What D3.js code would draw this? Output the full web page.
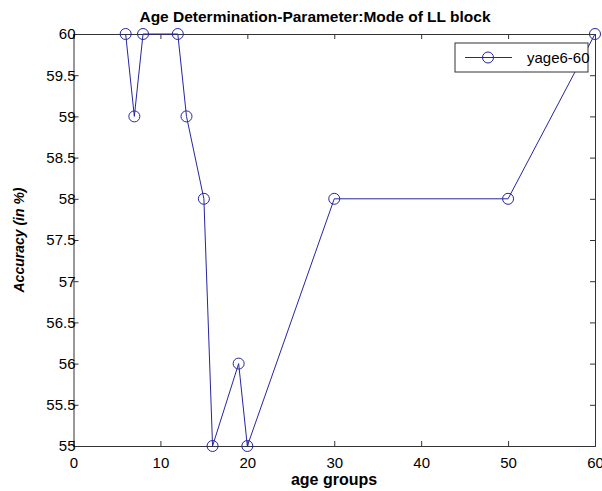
<!DOCTYPE html>
<html>
<head>
<meta charset="utf-8">
<script src="https://cdn.jsdelivr.net/npm/d3@7"></script>
<style>
  body { margin: 0; background: #fff; }
  text { font-family: "Liberation Sans", Arial, sans-serif; }
</style>
</head>
<body>
<script>
// data
var ages = [6, 7, 8, 12, 13, 15, 16, 19, 20, 30, 50, 60];
var accuracy = [60, 59, 60, 60, 59, 58, 55, 56, 55, 58, 58, 60];
var xTicks = [0, 10, 20, 30, 40, 50, 60];
var yTicks = [55, 55.5, 56, 56.5, 57, 57.5, 58, 58.5, 59, 59.5, 60];
var seriesName = "yage6-60";

var W = 602, H = 491;
var margin = { top: 34, right: 7, bottom: 45, left: 73.5 };
var width = W - margin.left - margin.right,
    height = H - margin.top - margin.bottom;

var lineColor = "#2626a0";

var x = d3.scaleLinear().domain([0, 60]).range([0, width]);
var y = d3.scaleLinear().domain([55, 60]).range([height, 0]);

var svg = d3.select("body").append("svg")
    .attr("width", W)
    .attr("height", H);

var g = svg.append("g")
    .attr("transform", "translate(" + margin.left + "," + margin.top + ")");

// axes, MATLAB style: ticks inward, box on
var fmt = d3.format("");
g.append("g")
    .attr("class", "axis")
    .attr("transform", "translate(0," + height + ")")
    .call(d3.axisBottom(x).tickValues(xTicks).tickSize(-5).tickPadding(11).tickFormat(fmt));
g.append("g")
    .attr("class", "axis")
    .call(d3.axisTop(x).tickValues(xTicks).tickSize(-5).tickFormat(""));
g.append("g")
    .attr("class", "axis")
    .call(d3.axisLeft(y).tickValues(yTicks).tickSize(-5).tickPadding(-2).tickFormat(fmt));
g.append("g")
    .attr("class", "axis")
    .attr("transform", "translate(" + width + ",0)")
    .call(d3.axisRight(y).tickValues(yTicks).tickSize(-5).tickFormat(""));

g.selectAll(".axis path").attr("stroke", "#333").attr("stroke-width", 1);
g.selectAll(".axis line").attr("stroke", "#333");
g.selectAll(".axis text")
    .attr("fill", "#000")
    .style("font-size", "15px")
    .style("font-family", "'Liberation Sans', Arial, sans-serif");

var data = ages.map((a, i) => ({ age: a, acc: accuracy[i] }));

var line = d3.line()
    .x(d => x(d.age))
    .y(d => y(d.acc));

g.append("path")
    .datum(data)
    .attr("fill", "none")
    .attr("stroke", lineColor)
    .attr("stroke-width", 1)
    .attr("d", line);

g.selectAll(".pt")
    .data(data)
    .enter().append("circle")
    .attr("class", "pt")
    .attr("cx", d => x(d.age))
    .attr("cy", d => y(d.acc))
    .attr("r", 5.5)
    .attr("fill", "none")
    .attr("stroke", lineColor)
    .attr("stroke-width", 1);

// legend
var leg = svg.append("g").attr("transform", "translate(455,43)");
leg.append("rect")
    .attr("width", 133).attr("height", 29)
    .attr("fill", "#fff").attr("stroke", "#333");
leg.append("line")
    .attr("x1", 10).attr("x2", 57).attr("y1", 14.5).attr("y2", 14.5)
    .attr("stroke", lineColor);
leg.append("circle")
    .attr("cx", 33).attr("cy", 14.5).attr("r", 5.5)
    .attr("fill", "none").attr("stroke", lineColor);
leg.append("text")
    .attr("x", 72).attr("y", 20)
    .style("font-size", "15px")
    .text(seriesName);

// titles
svg.append("text")
    .attr("x", 315)
    .attr("y", 22)
    .attr("text-anchor", "middle")
    .style("font-size", "15.5px")
    .style("font-weight", "bold")
    .text("Age Determination-Parameter:Mode of LL block");

svg.append("text")
    .attr("x", 334)
    .attr("y", 485)
    .attr("text-anchor", "middle")
    .style("font-size", "16px")
    .style("font-weight", "bold")
    .text("age groups");

svg.append("text")
    .attr("transform", "translate(24," + (margin.top + height / 2) + ") rotate(-90)")
    .attr("text-anchor", "middle")
    .style("font-size", "14px")
    .style("font-weight", "bold")
    .style("font-style", "italic")
    .text("Accuracy (in %)");
</script>
</body>
</html>
